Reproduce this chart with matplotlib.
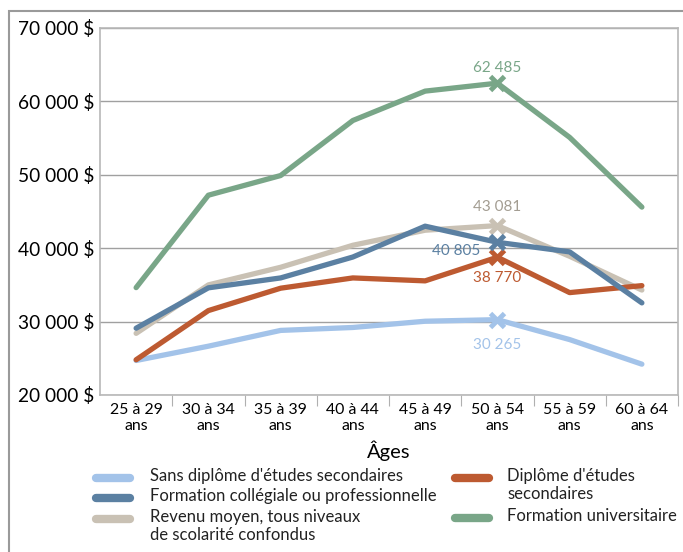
import matplotlib.pyplot as plt
from matplotlib.lines import Line2D
from matplotlib.patches import Rectangle

plt.rcParams['font.family'] = ['Lato', 'DejaVu Sans']

# Age groups along the x axis
ages = ["25 à 29\nans", "30 à 34\nans", "35 à 39\nans", "40 à 44\nans",
        "45 à 49\nans", "50 à 54\nans", "55 à 59\nans", "60 à 64\nans"]

# Average income per education level
sans_diplome = [24700, 26650, 28800, 29200, 30050, 30265, 27550, 24200]
diplome_secondaire = [24800, 31500, 34550, 35950, 35550, 38770, 33950, 34900]
collegial = [29100, 34600, 35950, 38800, 43000, 40805, 39500, 32550]
moyenne = [28400, 35000, 37400, 40400, 42450, 43081, 38900, 34300]
universitaire = [34630, 47220, 49900, 57400, 61400, 62485, 55100, 45600]

yticks = [20000, 30000, 40000, 50000, 60000, 70000]

c_light = "#a3c3e9"
c_dark = "#5b80a2"
c_beige = "#c9c1b4"
c_orange = "#bd5a31"
c_green = "#79a688"

W, H = 683, 552
fig = plt.figure(figsize=(W / 100, H / 100), dpi=100)
ax = fig.add_axes([100 / W, 1 - 395 / H, 578 / W, 367 / H])

x = list(range(len(ages)))
series = [
    (moyenne, c_beige),
    (sans_diplome, c_light),
    (diplome_secondaire, c_orange),
    (collegial, c_dark),
    (universitaire, c_green),
]
for vals, col in series:
    ax.plot(x, vals, color=col, lw=3.8, solid_capstyle="round", zorder=3)
    ax.plot(x[5], vals[5], marker="x", ms=10, mew=3.5, color=col, zorder=4)

# value labels at 50-54
ax.annotate("62 485", (5, universitaire[5]), xytext=(0, 6), textcoords="offset points",
            ha="center", va="bottom", color=c_green, fontsize=11)
ax.annotate("43 081", (5, moyenne[5]), xytext=(0, 8), textcoords="offset points",
            ha="center", va="bottom", color="#a39d92", fontsize=11)
ax.annotate("40 805", (5, collegial[5]), xytext=(-12, -6), textcoords="offset points",
            ha="right", va="center", color=c_dark, fontsize=11)
ax.annotate("38 770", (5, diplome_secondaire[5]), xytext=(0, -10), textcoords="offset points",
            ha="center", va="top", color=c_orange, fontsize=11)
ax.annotate("30 265", (5, sans_diplome[5]), xytext=(0, -13), textcoords="offset points",
            ha="center", va="top", color=c_light, fontsize=11)

ax.set_xlim(-0.5, len(ages) - 0.5)
ax.set_ylim(20000, 70000)
ax.set_yticks(yticks)
ax.set_yticklabels([f"{v:,} $".replace(",", " ") for v in yticks], fontsize=13.8)
ax.tick_params(axis="y", length=0, pad=4)
ax.set_xticks([i + 0.5 for i in x[:-1]] + [len(ages) - 0.5], minor=False)
ax.set_xticklabels([])
ax.tick_params(axis="x", length=8, color="#b0b0b0", direction="out")
ax.set_xticks(x, minor=True)
ax.set_xticklabels(ages, minor=True, fontsize=11.4, linespacing=1.12)
ax.tick_params(axis="x", which="minor", length=0, pad=6)
ax.grid(axis="y", color="#a0a0a0", lw=1)
ax.set_axisbelow(True)
for s in ax.spines.values():
    s.set_color("#b8b8b8")
    s.set_linewidth(1.2)
ax.set_xlabel("Âges", fontsize=14.5, labelpad=6)

# legend, drawn by hand to keep the two-column layout of the original
leg_rows = [
    (96, 150, 478, c_light, "Sans diplôme d'études secondaires"),
    (96, 150, 498, c_dark, "Formation collégiale ou professionnelle"),
    (96, 150, 519, c_beige, "Revenu moyen, tous niveaux\nde scolarité confondus"),
    (455, 507, 478, c_orange, "Diplôme d'études\nsecondaires"),
    (455, 507, 518, c_green, "Formation universitaire"),
]
for hx, tx, ty, col, lab in leg_rows:
    fig.add_artist(Line2D([hx / W, (hx + 34) / W], [1 - ty / H, 1 - ty / H],
                          transform=fig.transFigure, color=col, lw=6,
                          solid_capstyle="round"))
    fig.text(tx / W, 1 - (ty - 10) / H, lab, ha="left", va="top", fontsize=12,
             linespacing=1.15, color="#222222")

# outer frame
fig.add_artist(Rectangle((9 / W, -0.05), 1.0, 1 - 11 / H + 0.05, transform=fig.transFigure,
                         fill=False, edgecolor="#9a9a9a", lw=1.5))

fig.savefig("out.png", dpi=100)
